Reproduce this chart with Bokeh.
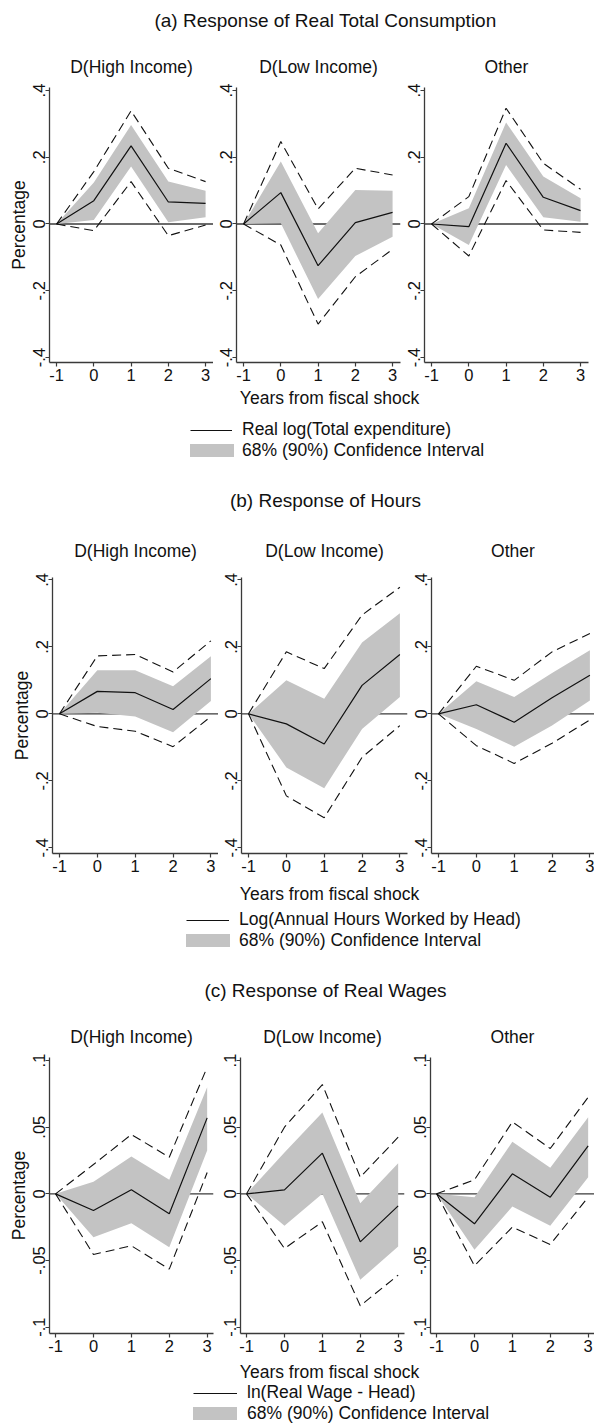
from bokeh.embed import file_html
from bokeh.layouts import column, row
from bokeh.models import (ColumnDataSource, FixedTicker, Label, Legend,
                          LegendItem, Range1d, Span)
from bokeh.plotting import figure
from bokeh.resources import INLINE

FONT = "Liberation Sans"
INK = "#111111"
AXIS = "#3a3a3a"
BAND = "#c3c3c3"
PAGE_W = 594

years = [-1, 0, 1, 2, 3]
year_labels = ["-1", "0", "1", "2", "3"]
groups = ["D(High Income)", "D(Low Income)", "Other"]

# (a) real total consumption -- one row per group
cons_est = [[0, 0.070, 0.234, 0.066, 0.062],
            [0, 0.094, -0.125, 0.004, 0.035],
            [0, -0.008, 0.242, 0.080, 0.040]]
cons_lo68 = [[0, 0.012, 0.172, 0.005, 0.020],
             [0, 0.002, -0.225, -0.096, -0.038],
             [0, -0.063, 0.177, 0.020, 0.007]]
cons_hi68 = [[0, 0.124, 0.297, 0.127, 0.100],
             [0, 0.187, -0.028, 0.102, 0.100],
             [0, 0.047, 0.304, 0.142, 0.077]]
cons_lo90 = [[0, -0.020, 0.127, -0.035, -0.003],
             [0, -0.063, -0.300, -0.158, -0.076],
             [0, -0.096, 0.130, -0.018, -0.025]]
cons_hi90 = [[0, 0.157, 0.339, 0.167, 0.127],
             [0, 0.247, 0.045, 0.167, 0.147],
             [0, 0.082, 0.347, 0.182, 0.104]]

# (b) hours worked by head
hours_est = [[0, 0.067, 0.063, 0.013, 0.105],
             [0, -0.030, -0.090, 0.085, 0.177],
             [0, 0.027, -0.025, 0.048, 0.115]]
hours_lo68 = [[0, 0.003, -0.008, -0.055, 0.038],
              [0, -0.160, -0.222, -0.045, 0.050],
              [0, -0.045, -0.098, -0.035, 0.040]]
hours_hi68 = [[0, 0.130, 0.130, 0.082, 0.172],
              [0, 0.100, 0.045, 0.213, 0.300],
              [0, 0.097, 0.050, 0.122, 0.190]]
hours_lo90 = [[0, -0.038, -0.052, -0.098, -0.008],
              [0, -0.245, -0.310, -0.130, -0.035],
              [0, -0.095, -0.148, -0.088, -0.018]]
hours_hi90 = [[0, 0.173, 0.177, 0.125, 0.218],
              [0, 0.185, 0.135, 0.295, 0.378],
              [0, 0.142, 0.100, 0.185, 0.240]]

# (c) real wage of head
wage_est = [[0, -0.0125, 0.003, -0.015, 0.057],
            [0, 0.003, 0.0305, -0.036, -0.009],
            [0, -0.0225, 0.015, -0.0025, 0.036]]
wage_lo68 = [[0, -0.0325, -0.022, -0.040, 0.0325],
             [0, -0.024, 0.000, -0.0645, -0.0395],
             [0, -0.042, -0.0095, -0.024, 0.0125]]
wage_hi68 = [[0, 0.009, 0.028, 0.0105, 0.080],
             [0, 0.031, 0.061, -0.007, 0.023],
             [0, -0.0025, 0.039, 0.0195, 0.0575]]
wage_lo90 = [[0, -0.0455, -0.039, -0.0565, 0.016],
             [0, -0.041, -0.021, -0.084, -0.061],
             [0, -0.054, -0.025, -0.038, -0.0025]]
wage_hi90 = [[0, 0.022, 0.0445, 0.0275, 0.095],
             [0, 0.050, 0.082, 0.0125, 0.0425],
             [0, 0.0105, 0.054, 0.034, 0.0725]]

pct_ticks = [-0.4, -0.2, 0, 0.2, 0.4]
pct_tick_labels = ["-.4", "-.2", "0", ".2", ".4"]
wage_ticks = [-0.1, -0.05, 0, 0.05, 0.1]
wage_tick_labels = ["-.1", "-.05", "0", ".05", ".1"]

x_title = "Years from fiscal shock"
band_label = "68% (90%) Confidence Interval"

panels = [
    dict(title="(a) Response of Real Total Consumption",
         series=(cons_est, cons_lo68, cons_hi68, cons_lo90, cons_hi90),
         line_label="Real log(Total expenditure)",
         ticks=pct_ticks, tick_labels=pct_tick_labels, y_range=(-0.415, 0.409),
         head_h=40, title_y=20,
         row_top=47, frame_h=275, row_bottom=26, sub_standoff=22,
         lefts=[49, 236, 424], frame_w=[164, 164, 164], bounds=[0, 213, 401, 594],
         x_start=-1.19, px_per_year=37.25,
         foot_h=82, xlab_y=9, leg_x=190, text_x=242, leg1_y=42, leg2_y=63),
    dict(title="(b) Response of Hours",
         series=(hours_est, hours_lo68, hours_hi68, hours_lo90, hours_hi90),
         line_label="Log(Annual Hours Worked by Head)",
         ticks=pct_ticks, tick_labels=pct_tick_labels, y_range=(-0.417, 0.407),
         head_h=48, title_y=30,
         row_top=59, frame_h=276, row_bottom=26, sub_standoff=34,
         lefts=[52, 241, 431], frame_w=[166, 166, 163], bounds=[0, 218, 408, 594],
         x_start=-1.185, px_per_year=37.85,
         foot_h=81, xlab_y=14, leg_x=186, text_x=239, leg1_y=41, leg2_y=62),
    dict(title="(c) Response of Real Wages",
         series=(wage_est, wage_lo68, wage_hi68, wage_lo90, wage_hi90),
         line_label="ln(Real Wage - Head)",
         ticks=wage_ticks, tick_labels=wage_tick_labels, y_range=(-0.1048, 0.1023),
         head_h=50, title_y=30,
         row_top=47, frame_h=276, row_bottom=26, sub_standoff=22,
         lefts=[49, 240, 430], frame_w=[164, 164, 164], bounds=[0, 217, 407, 594],
         x_start=-1.16, px_per_year=37.9,
         foot_h=67, xlab_y=12, leg_x=193, text_x=247, leg1_y=34, leg2_y=55),
]


def strip(height):
    """Blank full-width canvas whose data units are pixels from the top-left."""
    f = figure(width=PAGE_W, height=height, x_range=Range1d(0, PAGE_W),
               y_range=Range1d(height, 0), x_axis_type=None, y_axis_type=None,
               output_backend="svg", toolbar_location=None, min_border=0)
    f.outline_line_color = None
    f.grid.visible = False
    return f


def subplot(spec, gi):
    est, lo68, hi68, lo90, hi90 = spec["series"]
    left = spec["lefts"][gi] - spec["bounds"][gi]
    width = spec["bounds"][gi + 1] - spec["bounds"][gi]
    fw = spec["frame_w"][gi]
    height = spec["row_top"] + spec["frame_h"] + spec["row_bottom"]
    x_end = spec["x_start"] + fw / spec["px_per_year"]

    p = figure(width=width, height=height,
               x_range=Range1d(spec["x_start"], x_end),
               y_range=Range1d(*spec["y_range"]),
               output_backend="svg", toolbar_location=None,
               min_border_left=left, min_border_right=width - left - fw,
               min_border_top=spec["row_top"], min_border_bottom=spec["row_bottom"],
               title=groups[gi])
    p.outline_line_color = None
    p.grid.visible = False

    p.title.text_font = FONT
    p.title.text_font_size = "17.5px"
    p.title.text_font_style = "normal"
    p.title.text_color = INK
    p.title.align = "center"
    p.title.standoff = spec["sub_standoff"]

    src = ColumnDataSource(dict(x=years, est=est[gi], lo68=lo68[gi], hi68=hi68[gi],
                                lo90=lo90[gi], hi90=hi90[gi]))

    p.add_layout(Span(location=0, dimension="width", line_color=AXIS,
                      line_width=1.3, level="underlay"))
    p.varea(x="x", y1="lo68", y2="hi68", source=src, fill_color=BAND)
    p.line(x="x", y="est", source=src, line_color=INK, line_width=1.2)
    for col in ("lo90", "hi90"):
        p.line(x="x", y=col, source=src, line_color=INK, line_width=1.1,
               line_dash="9 5")

    for ax in (p.xaxis, p.yaxis):
        ax.axis_line_color = AXIS
        ax.axis_line_width = 1.3
        ax.major_tick_line_color = AXIS
        ax.major_tick_line_width = 1.2
        ax.major_tick_in = 0
        ax.major_tick_out = 4
        ax.minor_tick_line_color = None
        ax.major_label_text_font = FONT
        ax.major_label_text_font_size = "16.5px"
        ax.major_label_text_color = INK

    p.xaxis.ticker = FixedTicker(ticks=years)
    p.xaxis.major_label_overrides = dict(zip(years, year_labels))
    p.xaxis.major_label_standoff = 2
    p.yaxis.ticker = FixedTicker(ticks=spec["ticks"])
    p.yaxis.major_label_overrides = dict(zip(spec["ticks"], spec["tick_labels"]))
    p.yaxis.major_label_orientation = "vertical"
    p.yaxis.major_label_standoff = 0
    if gi == 0:
        p.yaxis.axis_label = "Percentage"
        p.yaxis.axis_label_text_font = FONT
        p.yaxis.axis_label_text_font_size = "17.5px"
        p.yaxis.axis_label_text_font_style = "normal"
        p.yaxis.axis_label_text_color = INK
        p.yaxis.axis_label_standoff = 2
    return p


def header(spec):
    f = strip(spec["head_h"])
    f.add_layout(Label(x=PAGE_W / 2 + 28, y=spec["title_y"], text=spec["title"],
                       text_align="center", text_baseline="middle",
                       text_font=FONT, text_font_size="19px", text_color=INK))
    return f


def footer(spec):
    h = spec["foot_h"]
    f = strip(h)
    f.add_layout(Label(x=PAGE_W / 2 + 32, y=spec["xlab_y"], text=x_title,
                       text_align="center", text_baseline="middle",
                       text_font=FONT, text_font_size="17.5px", text_color=INK))

    # Key glyphs: the middle group's series, drawn on a range kept off the canvas
    est, lo68, hi68 = spec["series"][:3]
    f.extra_x_ranges = {"key": Range1d(100, 200)}
    r_line = f.line(x=years, y=est[1], x_range_name="key",
                    line_color=INK, line_width=1.2)
    r_band = f.varea(x=years, y1=lo68[1], y2=hi68[1], x_range_name="key",
                     fill_color=BAND)

    common = dict(orientation="vertical", padding=0, margin=0, spacing=0,
                  border_line_color=None, background_fill_alpha=0,
                  label_text_font=FONT, label_text_font_size="17.5px",
                  label_text_color=INK)
    leg_line = Legend(items=[LegendItem(label=spec["line_label"], renderers=[r_line])],
                      location=(spec["leg_x"], h - spec["leg1_y"] - 10),
                      glyph_width=spec["text_x"] - spec["leg_x"] - 10, glyph_height=20,
                      label_height=20, label_standoff=10, **common)
    band_glyph_w = 55
    leg_band = Legend(items=[LegendItem(label=band_label, renderers=[r_band])],
                      location=(spec["leg_x"] - 6, h - spec["leg2_y"] - 9.75),
                      glyph_width=band_glyph_w, glyph_height=16, label_height=16,
                      label_standoff=spec["text_x"] - (spec["leg_x"] - 6) - band_glyph_w,
                      **common)
    f.add_layout(leg_line)
    f.add_layout(leg_band)
    return f


blocks = []
for spec in panels:
    blocks.append(header(spec))
    blocks.append(row([subplot(spec, gi) for gi in range(3)], spacing=0))
    blocks.append(footer(spec))

page = column(blocks, spacing=0)

with open("out.html", "w") as fh:
    fh.write(file_html(page, INLINE, title="Fiscal shock responses"))
